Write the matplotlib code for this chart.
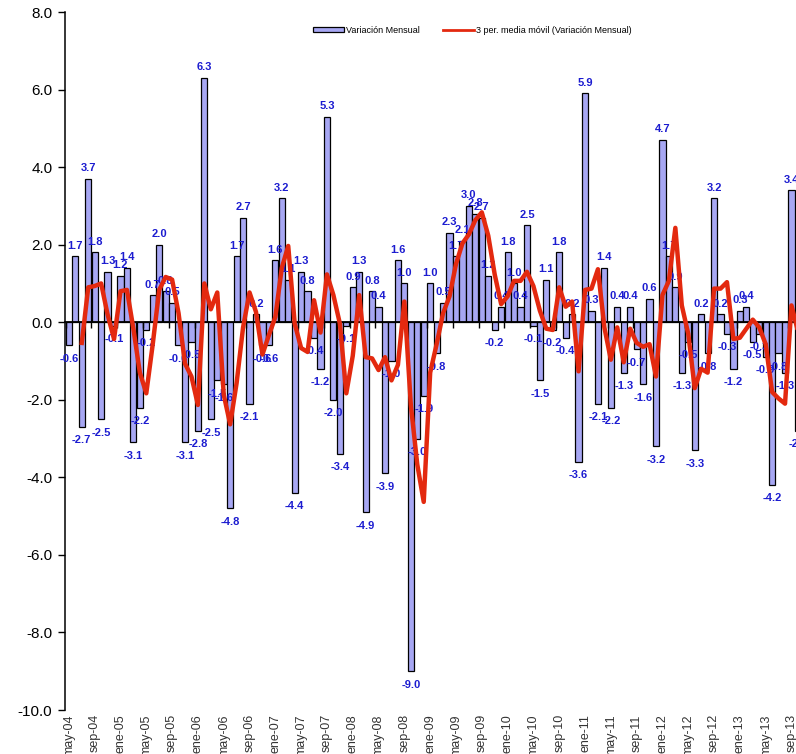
import matplotlib.pyplot as plt
import numpy as np
from matplotlib.lines import Line2D
from matplotlib.patches import Patch
from matplotlib.ticker import FormatStrFormatter

plt.rcParams['font.family'] = ['Liberation Sans', 'DejaVu Sans']

# monthly change, may-04 .. oct-13
variacion = [-0.6, 1.7, -2.7, 3.7, 1.8, -2.5, 1.3, -0.1, 1.2, 1.4,
             -3.1, -2.2, -0.2, 0.7, 2.0, 0.8, 0.5, -0.6, -3.1, -0.5,
             -2.8, 6.3, -2.5, -1.5, -1.6, -4.8, 1.7, 2.7, -2.1, 0.2,
             -0.6, -0.6, 1.6, 3.2, 1.1, -4.4, 1.3, 0.8, -0.4, -1.2,
             5.3, -2.0, -3.4, -0.1, 0.9, 1.3, -4.9, 0.8, 0.4, -3.9,
             -1.0, 1.6, 1.0, -9.0, -3.0, -1.9, 1.0, -0.8, 0.5, 2.3,
             1.7, 2.1, 3.0, 2.8, 2.7, 1.2, -0.2, 0.4, 1.8, 1.0,
             0.4, 2.5, -0.1, -1.5, 1.1, -0.2, 1.8, -0.4, 0.2, -3.6,
             5.9, 0.3, -2.1, 1.4, -2.2, 0.4, -1.3, 0.4, -0.7, -1.6,
             0.6, -3.2, 4.7, 1.7, 0.9, -1.3, -0.5, -3.3, 0.2, -0.8,
             3.2, 0.2, -0.3, -1.2, 0.3, 0.4, -0.5, -0.3, -0.9, -4.2,
             -0.8, -1.3, 3.4, -2.8]

tick_labels = ['may-04', 'sep-04', 'ene-05', 'may-05', 'sep-05', 'ene-06',
               'may-06', 'sep-06', 'ene-07', 'may-07', 'sep-07', 'ene-08',
               'may-08', 'sep-08', 'ene-09', 'may-09', 'sep-09', 'ene-10',
               'may-10', 'sep-10', 'ene-11', 'may-11', 'sep-11', 'ene-12',
               'may-12', 'sep-12', 'ene-13', 'may-13', 'sep-13']

v = np.array(variacion)
n = len(v)
x = np.arange(n)

# 3 period moving average
media = np.full(n, np.nan)
for i in range(2, n):
    media[i] = v[i-2:i+1].mean()

bar_color = '#a7a7f3'
red = '#e3290f'
blue = '#1c1cd0'

fig = plt.figure(figsize=(7.96, 7.54), dpi=100)
ax = fig.add_axes([65/796, 44/754, 731/796, 698/754])

ax.bar(x, v, width=0.96, color=bar_color, edgecolor='black', linewidth=0.9, zorder=2)

for i in range(n):
    val = v[i]
    if val >= 0:
        ax.annotate('%.1f' % val, (i, val), xytext=(0, 4), textcoords='offset points',
                    ha='center', va='bottom', fontsize=8, fontweight='bold',
                    color=blue, zorder=3, annotation_clip=False)
    else:
        ax.annotate('%.1f' % val, (i, val), xytext=(0, -6), textcoords='offset points',
                    ha='center', va='top', fontsize=8, fontweight='bold',
                    color=blue, zorder=3, annotation_clip=False)

ax.plot(x, media, color=red, lw=3.2, solid_joinstyle='round', zorder=4)

ax.set_xlim(-0.6, 112.7)
ax.set_ylim(-10, 8)
ax.set_yticks(np.arange(-10, 8.1, 2))
ax.yaxis.set_major_formatter(FormatStrFormatter('%.1f'))
ax.tick_params(axis='y', direction='out', length=5, width=1, labelsize=11, pad=4)

ax.set_xticks(x[::4])
ax.set_xticklabels(tick_labels, rotation=90, fontsize=9, color='#333333')
ax.tick_params(axis='x', length=0, pad=3)

for s in ['top', 'right', 'bottom']:
    ax.spines[s].set_visible(False)
ax.spines['left'].set_linewidth(1.1)

# category axis crossing at zero
sec = ax.secondary_xaxis(0, transform=ax.transData)
sec.set_xticks(np.arange(-0.5, n, 4))
sec.tick_params(axis='x', direction='out', length=4, width=1,
                labelbottom=False, labeltop=False)
for s in sec.spines.values():
    s.set_linewidth(1.3)
sec.set_zorder(2.5)

handles = [Patch(facecolor=bar_color, edgecolor='black', linewidth=0.9),
           Line2D([], [], color=red, lw=2)]
ax.legend(handles, ['Variación Mensual', '3 per. media móvil (Variación Mensual)'],
          loc='center', bbox_to_anchor=(0.557, 0.974), ncol=2, frameon=False,
          fontsize=6.5, handlelength=3.5, handleheight=0.6,
          columnspacing=2.5, handletextpad=0.2)

fig.savefig('out.png', dpi=100)
